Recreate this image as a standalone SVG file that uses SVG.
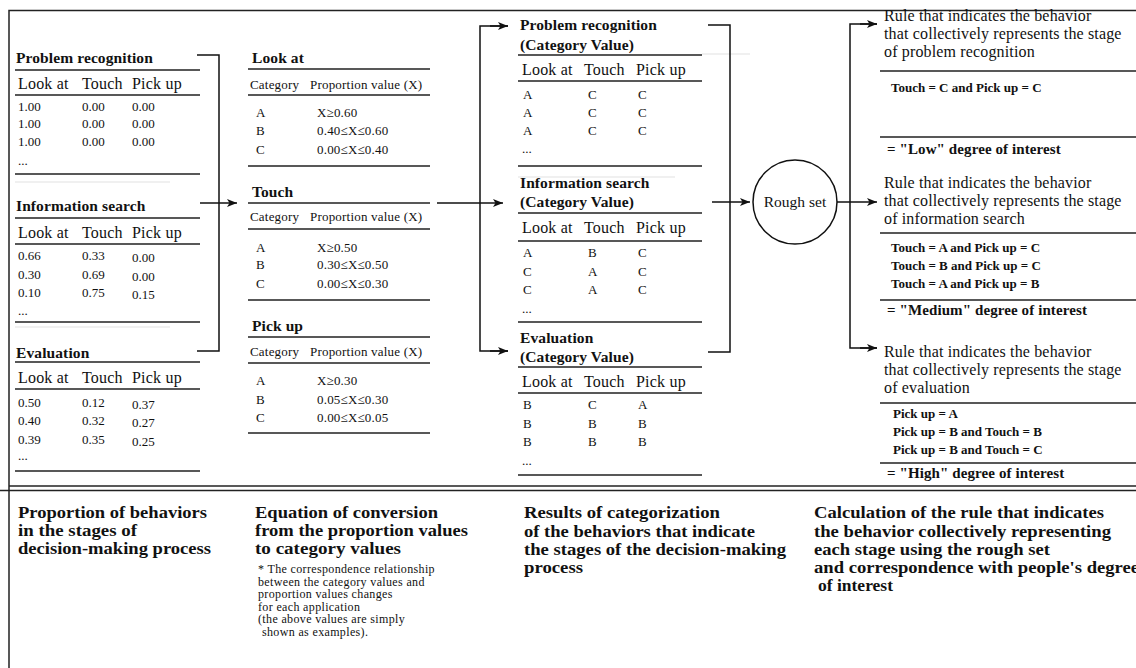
<svg xmlns="http://www.w3.org/2000/svg" width="1136" height="668" viewBox="0 0 1136 668">
<defs>
<marker id="ah" viewBox="0 0 10 8" refX="10" refY="4" markerWidth="10" markerHeight="8" markerUnits="userSpaceOnUse" orient="auto">
<path d="M0,0 L10,4 L0,8 L2.5,4 z" fill="#111"/>
</marker>
<style>
text{font-family:"Liberation Serif","Times New Roman",serif;fill:#111}
.t{font-size:15.5px;font-weight:bold;letter-spacing:0.1px}
.t3{font-size:15.5px;font-weight:bold;letter-spacing:0.1px}
.h{font-size:16px;letter-spacing:0.2px}
.h3{font-size:16px;letter-spacing:0.2px}
.v{font-size:13px}
.c{font-size:13px;letter-spacing:0.2px}
.rl{font-size:16px;letter-spacing:0.15px}
.rb{font-size:13px;font-weight:bold}
.deg{font-size:15px;font-weight:bold;letter-spacing:0.1px}
.cap{font-size:16.5px;font-weight:bold}
.note{font-size:12px;letter-spacing:0.35px}
.ln{stroke:#222;stroke-width:1.5;fill:none}
.gl{stroke:#e2e2e2;stroke-width:1.2;fill:none}
.cn{stroke:#111;stroke-width:1.5;fill:none}
</style>
</defs>
<rect width="1136" height="668" fill="#fff"/>
<g id="frame">
<path class="ln" d="M9,668 V10.5 H1136"/>
<path class="ln" d="M9,486 H1136"/>
<path class="ln" d="M0,490.5 H1136"/>
</g>

<g id="pr-proportion">
<text class="t" x="16" y="63">Problem recognition</text>
<path class="ln" d="M15,70 H200 M15,95 H200 M15,174 H200"/>
<text class="h" y="89"><tspan x="18">Look at</tspan><tspan x="82">Touch</tspan><tspan x="132">Pick up</tspan></text>
<text class="v" y="111"><tspan x="18">1.00</tspan><tspan x="82">0.00</tspan><tspan x="132">0.00</tspan></text>
<text class="v" y="128"><tspan x="18">1.00</tspan><tspan x="82">0.00</tspan><tspan x="132">0.00</tspan></text>
<text class="v" y="146"><tspan x="18">1.00</tspan><tspan x="82">0.00</tspan><tspan x="132">0.00</tspan></text>
<text class="v" x="18" y="165">...</text>
<path class="gl" d="M15,182 H170"/>
</g>

<g id="is-proportion">
<text class="t" x="16" y="211">Information search</text>
<path class="ln" d="M15,218 H200 M15,244 H200 M15,322 H200"/>
<text class="h" y="238"><tspan x="18">Look at</tspan><tspan x="82">Touch</tspan><tspan x="132">Pick up</tspan></text>
<text class="v" y="260"><tspan x="18">0.66</tspan><tspan x="82">0.33</tspan><tspan x="132" dy="2">0.00</tspan></text>
<text class="v" y="279"><tspan x="18">0.30</tspan><tspan x="82">0.69</tspan><tspan x="132" dy="2">0.00</tspan></text>
<text class="v" y="297"><tspan x="18">0.10</tspan><tspan x="82">0.75</tspan><tspan x="132" dy="2">0.15</tspan></text>
<text class="v" x="18" y="315">...</text>
<path class="gl" d="M15,327 H170"/>
</g>

<g id="ev-proportion">
<text class="t" x="16" y="358">Evaluation</text>
<path class="ln" d="M15,362 H200 M15,389 H200 M15,471 H200"/>
<text class="h" y="383"><tspan x="18">Look at</tspan><tspan x="82">Touch</tspan><tspan x="132">Pick up</tspan></text>
<text class="v" y="407"><tspan x="18">0.50</tspan><tspan x="82">0.12</tspan><tspan x="132" dy="2">0.37</tspan></text>
<text class="v" y="425"><tspan x="18">0.40</tspan><tspan x="82">0.32</tspan><tspan x="132" dy="2">0.27</tspan></text>
<text class="v" y="444"><tspan x="18">0.39</tspan><tspan x="82">0.35</tspan><tspan x="132" dy="2">0.25</tspan></text>
<text class="v" x="18" y="460">...</text>
</g>

<g id="lookat-conv">
<text class="t" x="252" y="63">Look at</text>
<path class="ln" d="M248,69 H430 M248,95 H430 M248,166 H430"/>
<text class="c" y="89"><tspan x="250">Category</tspan><tspan x="310">Proportion value (X)</tspan></text>
<text class="c" y="117"><tspan x="256">A</tspan><tspan x="317">X≥0.60</tspan></text>
<text class="c" y="135"><tspan x="256">B</tspan><tspan x="317">0.40≤X≤0.60</tspan></text>
<text class="c" y="154"><tspan x="256">C</tspan><tspan x="317">0.00≤X≤0.40</tspan></text>
</g>

<g id="touch-conv">
<text class="t" x="252" y="197">Touch</text>
<path class="ln" d="M248,203 H430 M248,229 H430 M248,300 H430"/>
<text class="c" y="221"><tspan x="250">Category</tspan><tspan x="310">Proportion value (X)</tspan></text>
<text class="c" y="252"><tspan x="256">A</tspan><tspan x="317">X≥0.50</tspan></text>
<text class="c" y="269"><tspan x="256">B</tspan><tspan x="317">0.30≤X≤0.50</tspan></text>
<text class="c" y="288"><tspan x="256">C</tspan><tspan x="317">0.00≤X≤0.30</tspan></text>
</g>

<g id="pickup-conv">
<text class="t" x="252" y="331">Pick up</text>
<path class="ln" d="M248,337 H430 M248,363 H430 M248,433 H430"/>
<text class="c" y="356"><tspan x="250">Category</tspan><tspan x="310">Proportion value (X)</tspan></text>
<text class="c" y="385"><tspan x="256">A</tspan><tspan x="317">X≥0.30</tspan></text>
<text class="c" y="404"><tspan x="256">B</tspan><tspan x="317">0.05≤X≤0.30</tspan></text>
<text class="c" y="422"><tspan x="256">C</tspan><tspan x="317">0.00≤X≤0.05</tspan></text>
</g>

<g id="pr-category">
<text class="t3" x="520" y="30">Problem recognition</text>
<text class="t3" x="520" y="50">(Category Value)</text>
<path class="ln" d="M518,55 H702 M518,81 H702 M518,166 H702"/>
<path class="gl" d="M702,54 H750"/>
<text class="h3" y="75"><tspan x="522">Look at</tspan><tspan x="584">Touch</tspan><tspan x="636">Pick up</tspan></text>
<text class="v" y="99"><tspan x="523">A</tspan><tspan x="588">C</tspan><tspan x="638">C</tspan></text>
<text class="v" y="117"><tspan x="523">A</tspan><tspan x="588">C</tspan><tspan x="638">C</tspan></text>
<text class="v" y="135"><tspan x="523">A</tspan><tspan x="588">C</tspan><tspan x="638">C</tspan></text>
<text class="v" x="522" y="153">...</text>
<path class="gl" d="M518,177 H675"/>
</g>

<g id="is-category">
<text class="t3" x="520" y="188">Information search</text>
<text class="t3" x="520" y="207">(Category Value)</text>
<path class="ln" d="M518,213 H702 M518,241 H702 M518,322 H702"/>
<text class="h3" y="233"><tspan x="522">Look at</tspan><tspan x="584">Touch</tspan><tspan x="636">Pick up</tspan></text>
<text class="v" y="257"><tspan x="523">A</tspan><tspan x="588">B</tspan><tspan x="638">C</tspan></text>
<text class="v" y="276"><tspan x="523">C</tspan><tspan x="588">A</tspan><tspan x="638">C</tspan></text>
<text class="v" y="294"><tspan x="523">C</tspan><tspan x="588">A</tspan><tspan x="638">C</tspan></text>
<text class="v" x="522" y="313">...</text>
</g>

<g id="ev-category">
<text class="t3" x="520" y="343">Evaluation</text>
<text class="t3" x="520" y="362">(Category Value)</text>
<path class="ln" d="M518,367 H702 M518,393 H702 M518,475 H702"/>
<text class="h3" y="387"><tspan x="522">Look at</tspan><tspan x="584">Touch</tspan><tspan x="636">Pick up</tspan></text>
<text class="v" y="409"><tspan x="523">B</tspan><tspan x="588">C</tspan><tspan x="638">A</tspan></text>
<text class="v" y="428"><tspan x="523">B</tspan><tspan x="588">B</tspan><tspan x="638">B</tspan></text>
<text class="v" y="446"><tspan x="523">B</tspan><tspan x="588">B</tspan><tspan x="638">B</tspan></text>
<text class="v" x="522" y="465">...</text>
</g>

<g id="roughset">
<circle cx="795" cy="202" r="42" fill="none" stroke="#111" stroke-width="1.5"/>
<text x="795" y="207" text-anchor="middle" style="font-size:15.5px">Rough set</text>
</g>

<g id="rule-pr">
<text class="rl" x="884" y="21">Rule that indicates the behavior</text>
<text class="rl" x="884" y="39">that collectively represents the stage</text>
<text class="rl" x="884" y="57">of problem recognition</text>
<path class="ln" d="M880,71 H1136 M880,137 H1136"/>
<text class="rb" x="891" y="92">Touch = C and Pick up = C</text>
<text class="deg" x="887" y="154">= "Low" degree of interest</text>
</g>

<g id="rule-is">
<text class="rl" x="884" y="188">Rule that indicates the behavior</text>
<text class="rl" x="884" y="206">that collectively represents the stage</text>
<text class="rl" x="884" y="224">of information search</text>
<path class="ln" d="M880,233 H1136 M880,300 H1136"/>
<text class="rb" x="891" y="252">Touch = A and Pick up = C</text>
<text class="rb" x="891" y="270">Touch = B and Pick up = C</text>
<text class="rb" x="891" y="288">Touch = A and Pick up = B</text>
<text class="deg" x="887" y="315">= "Medium" degree of interest</text>
</g>

<g id="rule-ev">
<text class="rl" x="884" y="357">Rule that indicates the behavior</text>
<text class="rl" x="884" y="375">that collectively represents the stage</text>
<text class="rl" x="884" y="393">of evaluation</text>
<path class="ln" d="M880,403 H1136 M880,463 H1136"/>
<text class="rb" x="893" y="418">Pick up = A</text>
<text class="rb" x="893" y="436">Pick up = B and Touch = B</text>
<text class="rb" x="893" y="454">Pick up = B and Touch = C</text>
<text class="deg" x="887" y="478">= "High" degree of interest</text>
</g>

<g id="connectors">
<path class="cn" d="M197,55 H219 V351 H197"/>
<path class="cn" d="M200,203 H237" marker-end="url(#ah)"/>
<path class="cn" d="M437,203 H503" marker-end="url(#ah)"/>
<path class="cn" d="M508,26 H480 V351 H508" />
<path class="cn" d="M490,26 H508" marker-end="url(#ah)"/>
<path class="cn" d="M490,351 H508" marker-end="url(#ah)"/>
<path class="cn" d="M708,25 H730 V352 H708"/>
<path class="cn" d="M712,202 H750" marker-end="url(#ah)"/>
<path class="cn" d="M837,202 H877" marker-end="url(#ah)"/>
<path class="cn" d="M877,24 H850 V348 H877"/>
<path class="cn" d="M860,24 H877" marker-end="url(#ah)"/>
<path class="cn" d="M860,348 H877" marker-end="url(#ah)"/>
</g>

<g id="captions">
<text class="cap" x="18" y="518" textLength="189" lengthAdjust="spacingAndGlyphs">Proportion of behaviors</text>
<text class="cap" x="18" y="536" textLength="119" lengthAdjust="spacingAndGlyphs">in the stages of</text>
<text class="cap" x="18" y="554" textLength="193" lengthAdjust="spacingAndGlyphs">decision-making process</text>
<text class="cap" x="255" y="518" textLength="183" lengthAdjust="spacingAndGlyphs">Equation of conversion</text>
<text class="cap" x="255" y="536" textLength="213" lengthAdjust="spacingAndGlyphs">from the proportion values</text>
<text class="cap" x="255" y="554" textLength="146" lengthAdjust="spacingAndGlyphs">to category values</text>
<text class="note" x="258" y="573">* The correspondence relationship</text>
<text class="note" x="258" y="585.5">between the category values and</text>
<text class="note" x="258" y="598">proportion values changes</text>
<text class="note" x="258" y="610.5">for each application</text>
<text class="note" x="258" y="623">(the above values are simply</text>
<text class="note" x="262" y="635.5">shown as examples).</text>
<text class="cap" x="524" y="518" textLength="196" lengthAdjust="spacingAndGlyphs">Results of categorization</text>
<text class="cap" x="524" y="537" textLength="231" lengthAdjust="spacingAndGlyphs">of the behaviors that indicate</text>
<text class="cap" x="524" y="555" textLength="262" lengthAdjust="spacingAndGlyphs">the stages of the decision-making</text>
<text class="cap" x="524" y="573" textLength="59" lengthAdjust="spacingAndGlyphs">process</text>
<text class="cap" x="814" y="518" textLength="290" lengthAdjust="spacingAndGlyphs">Calculation of the rule that indicates</text>
<text class="cap" x="814" y="537" textLength="297" lengthAdjust="spacingAndGlyphs">the behavior collectively representing</text>
<text class="cap" x="814" y="555" textLength="236" lengthAdjust="spacingAndGlyphs">each stage using the rough set</text>
<text class="cap" x="814" y="573" textLength="325" lengthAdjust="spacingAndGlyphs">and correspondence with people's degree</text>
<text class="cap" x="818" y="591" textLength="75" lengthAdjust="spacingAndGlyphs">of interest</text>
</g>
</svg>
